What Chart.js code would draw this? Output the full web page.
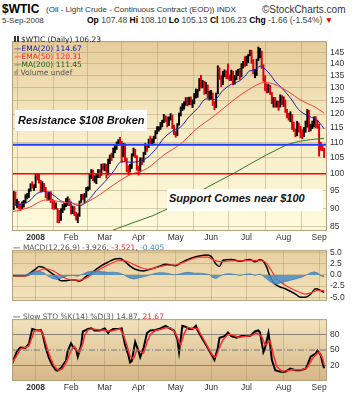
<!DOCTYPE html>
<html><head><meta charset="utf-8">
<script src="https://cdn.jsdelivr.net/npm/chart.js@4.4.0/dist/chart.umd.min.js"></script>
<style>
body{margin:0;background:#fff;width:356px;height:400px;position:relative;overflow:hidden;font-family:'Liberation Sans',Arial,sans-serif}
.t{position:absolute;white-space:nowrap;line-height:1}
.c{position:absolute;left:0}
.box{position:absolute;background:#fff;font:italic bold 11px 'Liberation Sans',Arial,sans-serif;color:#111;white-space:nowrap}
</style></head><body>

<div class="t" style="left:2px;top:2px;font:bold 12px 'Liberation Sans';">$WTIC</div>
<div class="t" style="left:46px;top:5px;font:8px 'Liberation Sans';color:#333">(Oil - Light Crude - Continuous Contract (EOD)) INDX</div>
<div class="t" style="left:262px;top:4px;font:10px 'Liberation Sans';color:#333">©StockCharts.com</div>
<div class="t" style="left:2px;top:16px;font:8px 'Liberation Sans';color:#333">5-Sep-2008</div>
<div class="t" style="left:87px;top:15px;font:8.5px 'Liberation Sans';color:#444"><b style="color:#000">Op</b> 107.48 <b style="color:#000">Hi</b> 108.10 <b style="color:#000">Lo</b> 105.13 <b style="color:#000">Cl</b> 106.23 <b style="color:#000">Chg</b> -1.66 (-1.54%)<span style="color:#d00"> ▼</span></div>

<div class="c" style="top:33px"><canvas id="main" width="356" height="210"></canvas></div>
<div class="c" style="top:242px"><canvas id="macd" width="356" height="67"></canvas></div>
<div class="c" style="top:311px"><canvas id="sto" width="356" height="82"></canvas></div>

<div class="t" style="left:14px;top:35px;font:7.5px 'DejaVu Sans';color:#222"><span style="display:inline-block;width:5px;height:6px;border-left:2px solid #333;border-right:2px solid #333;box-sizing:border-box;margin-right:2px"></span>$WTIC (Daily) 106.23</div>
<div class="t" style="left:14px;top:44px;font:7.5px 'DejaVu Sans';color:#1010c0">—EMA(20) 114.67</div>
<div class="t" style="left:14px;top:52px;font:7.5px 'DejaVu Sans';color:#ff2020">—EMA(50) 120.31</div>
<div class="t" style="left:14px;top:60px;font:7.5px 'DejaVu Sans';color:#206020">—MA(200) 111.45</div>
<div class="t" style="left:14px;top:68px;font:7.5px 'DejaVu Sans';color:#555">ıl Volume undef</div>

<div class="box" style="left:15px;top:110px;width:132px;height:21px;"><span style="position:absolute;left:3px;top:4px">Resistance $108 Broken</span></div>
<div class="box" style="left:167px;top:189px;width:156px;height:22px;"><span style="position:absolute;left:2px;top:3px">Support Comes near $100</span></div>

<div class="t" style="left:13px;top:243px;font:7.5px 'DejaVu Sans';color:#555"><span style="color:#000">—</span> MACD(12,26,9) -3.926, <span style="color:#ff2020">-3.521</span>, <span style="color:#3a8cc8">-0.405</span></div>
<div class="t" style="left:13px;top:312px;font:7.5px 'DejaVu Sans';color:#555"><span style="color:#000">—</span> Slow STO %K(14) %D(3) 14.87, <span style="color:#ff2020">21.67</span></div>

<script>
// ---------- DATA ----------
const monthLabels = ['2008','Feb','Mar','Apr','May','Jun','Jul','Aug','Sep'];
const monthStarts = [14,35,55,75,97,118,139,161,182];
const priceTicks = [85,90,95,100,105,110,115,120,125,130,135,140,145];
const macdTicks = [5,2.5,0,-2.5,-5];
const stoTicks = [80,50,20];
const resistanceLevel = 109.3;
const supportLevel = 100;

const closes = [90.0,94.4,91.3,91.3,90.6,90.5,91.2,91.5,93.3,93.3,
 95.0,96.6,96.0,96.0,99.6,99.2,97.9,95.1,96.3,95.7,
 93.7,92.7,94.2,91.9,90.8,90.1,90.6,89.2,86.6,89.4,
 90.7,91.0,91.6,92.3,91.8,89.0,90.0,88.4,87.1,88.1,
 91.8,93.6,92.8,93.3,95.5,95.5,100.0,100.7,98.2,98.8,
 99.2,100.9,99.6,102.6,101.8,102.5,99.5,104.5,105.5,105.2,
 107.9,108.8,109.9,110.3,110.2,105.7,109.4,104.5,101.8,101.2,
 101.9,105.9,107.6,105.6,101.6,101.0,104.8,103.9,106.2,109.1,
 108.5,110.9,110.1,110.1,111.8,113.8,114.9,114.9,116.7,117.5,
 119.4,118.3,116.1,118.5,119.8,115.6,113.5,112.5,116.3,120.0,
 121.8,123.5,123.7,126.0,124.2,125.8,124.1,124.1,126.3,127.1,
 129.1,133.2,130.8,132.2,128.9,131.0,126.6,127.4,127.8,124.3,
 122.3,127.8,138.5,134.4,131.3,136.4,136.7,134.9,134.6,134.0,
 136.7,131.9,134.6,136.7,137.0,134.6,139.6,140.2,140.0,141.0,
 143.6,145.3,141.4,136.0,136.1,141.7,145.1,145.2,138.7,134.6,
 129.3,128.9,131.0,128.0,124.4,125.5,123.3,124.7,122.2,126.8,
 124.1,125.1,121.4,119.2,118.6,120.0,115.2,114.5,113.0,116.0,
 115.0,113.8,112.9,114.5,116.2,121.2,114.6,115.5,116.3,118.2,
 115.6,115.5,109.7,109.4,107.9,106.2];
const highs = [90.8,94.8,94.6,92.5,91.9,91.2,91.8,92.2,93.8,94.2,
 95.5,97.0,97.6,96.7,100.1,100.1,99.8,98.0,97.6,97.1,
 95.9,94.4,94.6,94.7,92.5,92.1,91.5,90.0,89.4,89.9,
 91.1,91.4,92.7,93.2,92.6,91.8,90.6,90.5,88.9,88.5,
 92.0,93.9,94.0,94.2,95.9,96.1,100.1,101.3,101.1,99.4,
 99.8,101.3,101.3,103.0,103.1,103.1,103.0,104.6,105.9,106.5,
 108.2,109.1,110.2,111.0,111.8,110.4,109.8,109.6,104.9,102.5,
 103.0,106.3,108.2,107.8,105.7,102.4,105.0,105.0,106.8,109.7,
 109.2,111.2,112.2,111.3,112.2,114.1,115.5,115.5,117.0,117.8,
 119.9,119.4,119.0,119.0,120.2,119.7,116.0,113.9,116.6,120.4,
 122.7,123.9,124.6,126.2,126.3,126.4,126.5,125.4,127.8,129.6,
 129.4,133.8,135.1,133.0,132.6,132.2,131.2,128.8,129.0,128.0,
 124.7,128.0,139.1,138.2,135.0,136.8,137.4,137.0,139.9,135.3,
 137.3,136.8,135.0,137.0,137.6,138.0,140.0,141.0,143.0,143.3,
 144.0,145.9,145.8,141.8,137.6,142.0,147.3,146.7,145.5,139.6,
 135.0,131.6,131.5,131.0,128.2,126.3,126.3,124.9,124.9,127.3,
 127.0,126.5,125.3,121.8,120.3,120.9,119.9,117.1,114.7,117.4,
 116.8,115.6,114.4,115.2,117.5,121.8,121.4,116.4,117.5,119.0,
 119.1,117.8,116.4,110.1,109.4,108.1];
const lows = [87.7,89.6,90.9,90.2,89.9,89.4,89.8,90.3,91.4,92.6,
 93.0,94.8,95.7,95.0,95.8,98.1,97.2,94.6,94.8,95.0,
 92.9,92.2,92.3,91.6,89.8,89.7,89.8,86.1,86.1,86.7,
 88.8,89.5,90.4,90.8,90.7,88.4,88.5,88.0,86.8,86.1,
 87.8,91.6,92.4,91.5,93.1,94.9,95.3,98.5,97.9,97.4,
 97.0,98.8,98.8,99.5,101.1,100.9,98.7,99.6,103.1,104.1,
 105.0,106.6,107.7,109.0,109.3,103.5,105.3,104.0,100.6,99.6,
 100.5,101.6,105.5,105.0,101.1,99.6,100.5,102.8,103.6,106.0,
 107.1,108.3,109.6,109.2,109.8,111.3,113.0,113.9,114.5,115.4,
 116.9,117.2,115.4,115.9,117.8,114.8,112.7,111.8,112.3,116.0,
 119.3,121.3,121.8,123.2,123.0,123.5,123.4,122.4,123.8,126.0,
 126.3,128.8,129.9,130.0,127.5,127.7,126.0,125.3,125.6,123.2,
 121.6,122.4,127.7,133.4,130.5,131.3,134.5,133.8,133.6,132.9,
 133.0,131.2,131.5,133.3,135.0,133.4,134.4,138.1,138.8,139.2,
 140.5,143.4,140.1,135.7,134.1,135.0,141.2,142.5,138.0,132.7,
 129.0,128.0,128.2,127.4,123.9,122.6,122.5,122.6,121.4,122.6,
 123.5,122.8,120.6,118.6,117.8,117.2,114.5,113.8,112.0,112.3,
 113.6,111.6,111.3,112.0,113.5,115.3,113.7,114.0,114.8,115.4,
 115.1,114.9,105.5,107.4,107.3,105.1];

const ema20Days = [0,5,10,15,20,25,30,35,40,45,50,55,60,65,70,75,80,85,90,95,100,105,110,115,120,125,130,135,138,141,144,147,150,153,156,160,165,170,175,180,182,185];
const ema20 = [90.7,91.1,91.9,94.2,94.7,93.5,91.8,91.5,90.7,92.1,95.0,97.6,100.6,103.8,103.6,103.8,105.0,107.7,111.5,113.9,115.4,119.1,122.1,125.7,125.5,129.0,131.5,132.9,134.7,137.0,137.2,139.0,137.7,135.5,132.6,129.9,126.1,121.6,119.5,118.1,117.1,114.7];
const ema50Days = [0,10,20,30,40,50,60,70,80,90,100,110,120,130,140,150,155,160,165,170,175,180,185];
const ema50 = [89.0,90.2,92.3,91.7,91.1,93.2,96.6,99.7,101.6,105.9,109.6,115.0,119.4,124.6,129.2,132.2,131.6,130.0,128.0,125.7,124.0,122.5,120.3];
const ma200Days = [56,63,73,83,93,103,113,123,131,141,151,163,170,177,185];
const ma200 = [83.5,84.7,86.3,87.9,90.0,92.6,95.2,97.9,100.0,103.0,106.0,109.3,110.4,111.0,111.45];

const macdDays = [0,8,11,14,16,18,22,26,29,32,35,38,40,44,47,50,53,57,61,64,67,70,73,78,82,87,91,97,100,105,109,115,118,121,123,125,130,135,141,144,147,149,151,153,156,159,162,165,168,171,174,177,180,183,185];
const macdLine = [-0.2,-0.2,0.5,1.3,1.9,1.8,0.8,-0.3,-1.3,-1.3,-1.1,-1.2,-1.4,-0.3,0.4,1.3,2.1,2.9,3.6,3.7,3.0,2.0,1.3,0.9,1.3,1.9,2.4,2.1,2.7,3.6,4.1,4.5,4.2,2.4,1.9,3.3,3.5,3.1,3.5,3.0,3.4,3.1,1.7,-0.4,-2.1,-2.7,-3.1,-3.7,-4.3,-5.0,-5.0,-4.3,-3.1,-3.5,-3.93];
const signalDays = [0,8,12,16,20,24,28,32,36,40,44,48,52,56,60,64,68,72,76,80,84,88,92,96,100,104,108,112,116,120,124,128,132,136,140,144,148,151,154,157,162,168,174,178,181,185];
const signalLine = [-0.2,-0.2,0.3,1.0,1.4,1.0,0.1,-0.8,-1.1,-1.2,-0.7,0.3,1.3,2.1,2.8,3.3,3.1,2.4,1.7,1.3,1.5,1.9,2.2,2.2,2.6,3.2,3.8,4.0,4.0,3.3,3.0,3.1,3.2,3.2,3.3,3.3,3.2,2.6,0.8,-0.9,-2.3,-3.5,-4.3,-3.9,-3.5,-3.52];
const histDays = [0,8,10,13,16,19,21,24,27,30,33,36,39,42,45,48,51,54,57,60,63,66,69,72,75,78,81,84,87,90,93,96,99,102,105,108,111,114,117,119,121,123,126,129,132,135,138,141,144,147,149,151,153,155,157,159,161,163,165,167,169,171,173,175,177,179,181,183,185];
const histValues = [0,0,0.4,0.8,0.9,0.5,-0.2,-0.8,-1.0,-0.6,-0.2,-0.1,-0.3,0.2,0.7,0.9,0.9,0.7,0.6,0.6,0.5,0.1,-0.6,-0.9,-0.7,-0.4,-0.1,0.3,0.5,0.5,0.3,0.0,0.2,0.5,0.6,0.4,0.4,0.3,0.1,-0.6,-0.8,-0.3,0.2,0.3,0.1,-0.1,0.1,0.3,-0.1,0.2,-0.3,-0.9,-1.5,-2.0,-2.1,-1.8,-1.6,-1.4,-1.2,-1.0,-0.8,-0.6,-0.3,0.1,0.5,0.7,0.5,-0.2,-0.41];

const stoKDays = [0,3,5,8,10,11,12,14,16,17,18,20,22,24,26,27,29,32,33,35,36,38,39,41,42,44,45,47,49,52,55,57,58,60,63,65,67,69,70,71,73,75,76,78,80,82,85,88,91,94,96,98,99,100,101,103,105,107,109,110,113,115,117,119,120,122,123,126,128,130,133,136,141,144,146,147,149,150,152,153,154,156,159,162,165,168,171,174,175,177,180,181,183,184,185];
const stoK = [23,48,55,54,62,77,91,89,88,89,83,54,34,20,11,10,15,29,48,63,57,51,37,60,86,89,91,92,88,88,92,83,87,91,91,92,60,40,26,29,66,48,36,54,83,88,89,92,97,91,88,71,46,72,97,95,91,91,97,88,71,60,48,37,31,54,74,77,84,77,74,77,77,86,88,84,46,54,83,60,31,11,8,8,14,11,11,14,20,37,43,49,40,26,14.87];
const stoDDays = [0,3,5,8,10,12,13,15,17,19,21,23,25,27,28,30,33,35,37,39,40,42,43,45,47,50,53,56,58,61,64,66,68,70,72,74,76,78,80,82,85,88,91,94,97,99,100,102,104,107,110,112,114,116,118,120,121,123,125,128,131,134,137,142,145,148,150,151,153,155,157,160,163,166,169,172,175,176,178,181,182,184,185];
const stoD = [25,40,52,55,58,76,86,89,88,75,52,33,19,12,11,14,32,50,57,47,46,62,78,89,91,90,89,88,86,89,91,80,60,38,33,50,48,44,65,80,88,90,93,93,82,66,60,82,94,92,92,80,68,56,44,36,38,55,70,80,79,75,76,78,83,76,60,62,68,40,18,9,10,12,12,12,16,22,33,44,46,35,21.67];

// ---------- HELPERS ----------
const X_MIN = 0, X_MAX = 186.7;
const FAM = "'Liberation Sans', Arial, sans-serif";
const pts = (days, vals) => days.map((d, i) => ({x: d, y: vals[i]}));
const flat = (v) => [{x: X_MIN, y: v}, {x: X_MAX, y: v}];
const bgPlugin = {
  id: 'bg',
  beforeDraw(chart, args, opts) {
    const {ctx, chartArea: a} = chart;
    const g = ctx.createLinearGradient(0, a.top, 0, a.bottom);
    opts.stops.forEach(([o, c]) => g.addColorStop(o, c));
    ctx.save(); ctx.fillStyle = g;
    ctx.fillRect(a.left, a.top, a.right - a.left, a.bottom - a.top);
    ctx.restore();
  },
  afterDraw(chart) {
    const {ctx, chartArea: a} = chart;
    ctx.save(); ctx.strokeStyle = '#b5a27c'; ctx.lineWidth = 1;
    ctx.strokeRect(a.left + 0.5, a.top + 0.5, a.right - a.left - 1, a.bottom - a.top - 1);
    ctx.restore();
  }
};
const GRID = 'rgba(170,150,110,0.45)';
function xScale(showLabels) {
  return {
    type: 'linear', min: X_MIN, max: X_MAX, offset: false,
    afterBuildTicks: s => { s.ticks = monthStarts.map(v => ({value: v})); },
    afterFit: s => { s.height = showLabels ? 12 : 0; },
    ticks: {
      display: showLabels, autoSkip: false, maxRotation: 0, padding: 2, color: '#333',
      font: c => ({family: FAM, size: 8.5, weight: (c.tick && c.tick.value === monthStarts[0]) ? 'bold' : 'normal'}),
      callback: v => monthLabels[monthStarts.indexOf(v)]
    },
    grid: {color: GRID, drawTicks: false},
    border: {display: false}
  };
}
function yScale(extra) {
  return Object.assign({
    position: 'right',
    afterFit: s => { s.width = 29; },
    grid: {color: GRID, drawTicks: false},
    border: {display: false},
  }, extra);
}
const common = {
  responsive: false, animation: false, devicePixelRatio: 1, events: [],
  layout: {padding: {left: 12, right: 0, top: 0, bottom: 0}},
};

// ---------- MAIN PRICE CHART ----------
const idx = closes.map((_, i) => i);
new Chart(document.getElementById('main'), {
  type: 'bar',
  data: {
    datasets: [
      {type: 'line', data: flat(supportLevel), borderColor: '#ff0000', borderWidth: 1.5, pointRadius: 0, order: 1},
      {type: 'line', data: pts(ma200Days, ma200), borderColor: '#2f7a2f', borderWidth: 1, pointRadius: 0, order: 2},
      {type: 'line', data: pts(ema50Days, ema50), borderColor: '#ff3b3b', borderWidth: 1, pointRadius: 0, cubicInterpolationMode: 'monotone', order: 3},
      {type: 'line', data: pts(ema20Days, ema20), borderColor: '#2020b8', borderWidth: 1, pointRadius: 0, cubicInterpolationMode: 'monotone', order: 4},
      {type: 'bar', data: idx.map(i => ({x: i, y: [lows[i], highs[i]]})),
        backgroundColor: idx.map(i => (i > 0 && closes[i] < closes[i - 1]) ? '#e0000a' : '#000000'),
        barThickness: 1.3, grouped: false, order: 5},
      {type: 'line', data: flat(resistanceLevel), borderColor: '#1f3dff', borderWidth: 2, pointRadius: 0, order: 0},
    ]
  },
  options: Object.assign({}, common, {
    plugins: {legend: {display: false}, tooltip: {enabled: false}, bg: {stops: [[0, '#e6cc9a'], [0.45, '#f6ebc4'], [1, '#fffbdc']]}},
    scales: {
      x: xScale(true),
      y: yScale({
        type: 'logarithmic', min: 83.95, max: 150,
        afterBuildTicks: s => { s.ticks = priceTicks.map(v => ({value: v})); },
        ticks: {callback: v => String(v), padding: 3, color: '#333', font: {family: FAM, size: 8.5}}
      })
    }
  }),
  plugins: [bgPlugin]
});

// ---------- MACD ----------
new Chart(document.getElementById('macd'), {
  type: 'line',
  data: {
    datasets: [
      {data: pts(histDays, histValues), borderColor: '#2f6fa8', borderWidth: 0.6, backgroundColor: 'rgba(70,140,200,0.85)', fill: 'origin', pointRadius: 0},
      {data: pts(signalDays, signalLine), borderColor: '#ff3030', borderWidth: 1.2, pointRadius: 0, cubicInterpolationMode: 'monotone'},
      {data: pts(macdDays, macdLine), borderColor: '#000', borderWidth: 1.5, pointRadius: 0, cubicInterpolationMode: 'monotone'},
    ]
  },
  options: Object.assign({}, common, {
    plugins: {legend: {display: false}, tooltip: {enabled: false}, bg: {stops: [[0, '#e7cf9f'], [1, '#f3e4bd']]}},
    scales: {
      x: xScale(false),
      y: yScale({
        type: 'linear', min: -5.84, max: 5.6,
        afterBuildTicks: s => { s.ticks = macdTicks.map(v => ({value: v})); },
        ticks: {callback: v => v.toFixed(1), padding: 3, color: '#333', font: {family: FAM, size: 8.5}}
      })
    }
  }),
  plugins: [bgPlugin]
});

// ---------- SLOW STOCHASTIC ----------
new Chart(document.getElementById('sto'), {
  type: 'line',
  data: {
    datasets: [
      {data: flat(stoTicks[1]), borderColor: '#777', borderWidth: 1, borderDash: [6, 2, 1, 2], pointRadius: 0},
      {data: pts(stoDDays, stoD), borderColor: '#ff2a2a', borderWidth: 1.5, pointRadius: 0},
      {data: pts(stoKDays, stoK), borderColor: '#000', borderWidth: 2, pointRadius: 0},
    ]
  },
  options: Object.assign({}, common, {
    plugins: {legend: {display: false}, tooltip: {enabled: false}, bg: {stops: [[0, '#f2e3bd'], [1, '#d6b687']]}},
    scales: {
      x: xScale(true),
      y: yScale({
        type: 'linear', min: -10, max: 110,
        afterBuildTicks: s => { s.ticks = stoTicks.map(v => ({value: v})); },
        grid: {color: c => (c.tick && c.tick.value === 50) ? 'rgba(0,0,0,0)' : '#8a8478', drawTicks: false},
        ticks: {callback: v => String(v), padding: 3, color: '#333', font: {family: FAM, size: 8.5}}
      })
    }
  }),
  plugins: [bgPlugin]
});
</script>
</body></html>
